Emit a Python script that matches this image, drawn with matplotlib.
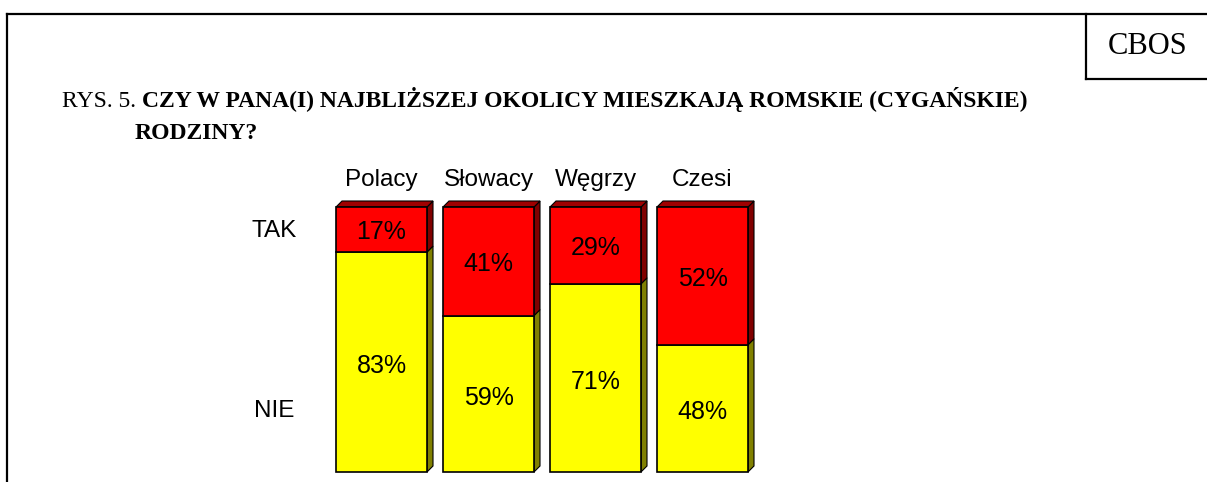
import matplotlib
matplotlib.use("Agg")
import matplotlib.pyplot as plt
from matplotlib.patches import Polygon
from matplotlib.lines import Line2D

# data
countries = ["Polacy", "Słowacy", "Węgrzy", "Czesi"]
nie = [83, 59, 71, 48]
tak = [17, 41, 29, 52]

YELLOW, RED = "#FFFF00", "#FF0000"
YELLOW_SIDE, RED_SIDE, RED_TOP = "#808000", "#800000", "#A00000"
SANS = "Liberation Sans"
SERIF = "Liberation Serif"

W, H = 1207, 482
fig = plt.figure(figsize=(W / 100, H / 100), dpi=100)

# frame lines (pixel -> figure fraction)
def fx(px): return px / W
def fy(py): return 1 - py / H

fig.add_artist(Line2D([fx(7), fx(W)], [fy(14), fy(14)], color="black", lw=1.6))
fig.add_artist(Line2D([fx(7), fx(7)], [fy(14), fy(H)], color="black", lw=1.6))
fig.add_artist(Line2D([fx(1086), fx(1086)], [fy(14), fy(79)], color="black", lw=1.6))
fig.add_artist(Line2D([fx(1086), fx(W)], [fy(79), fy(79)], color="black", lw=1.6))
fig.text(fx(1148), fy(47), "CBOS", family=SERIF, fontsize=22, ha="center", va="center")

# title
t1 = fig.text(fx(62), fy(107), "RYS. 5. ", family=SERIF, fontsize=17, va="baseline")
fig.canvas.draw()
bb = t1.get_window_extent()
fig.text(bb.x1 / W, fy(107), "CZY W PANA(I) NAJBLIŻSZEJ OKOLICY MIESZKAJĄ ROMSKIE (CYGAŃSKIE)",
         family=SERIF, fontsize=17, weight="bold", va="baseline")
fig.text(fx(135), fy(139), "RODZINY?", family=SERIF, fontsize=17, weight="bold", va="baseline")

# bar axes: y 0..100 maps to pixel 472..207, bar spacing 107 px
ax = fig.add_axes([fx(328), fy(472), 428 / W, (472 - 207) / H])
ax.set_xlim(-0.5, 3.5)
ax.set_ylim(0, 100)
ax.axis("off")

bw = 91 / 107
dx = 6 / 107
dy = 6 / 265 * 100

for i, (n, t) in enumerate(zip(nie, tak)):
    x0, x1 = i - bw / 2, i + bw / 2
    ax.bar(i, n, width=bw, color=YELLOW, edgecolor="black", lw=1.2, zorder=3, clip_on=False)
    ax.bar(i, t, bottom=n, width=bw, color=RED, edgecolor="black", lw=1.2, zorder=3, clip_on=False)
    # side faces
    for y0, y1, c in [(0, n, YELLOW_SIDE), (n, 100, RED_SIDE)]:
        ax.add_patch(Polygon([(x1, y0), (x1 + dx, y0 + dy), (x1 + dx, y1 + dy), (x1, y1)],
                             closed=True, facecolor=c, edgecolor="black", lw=0.8,
                             clip_on=False, zorder=2))
    ax.add_patch(Polygon([(x0, 100), (x1, 100), (x1 + dx, 100 + dy), (x0 + dx, 100 + dy)],
                         closed=True, facecolor=RED_TOP, edgecolor="black", lw=0.8,
                         clip_on=False, zorder=2))
    ax.text(i, n / 2 - 1.5, f"{n}%", family=SANS, fontsize=18, ha="center", va="center", zorder=4)
    ax.text(i, n + t / 2 - 1, f"{t}%", family=SANS, fontsize=18, ha="center", va="center", zorder=4)
    ax.text(i, 110, countries[i], family=SANS, fontsize=17.5, ha="center", va="center", clip_on=False)

ax.text(-1.0, 91, "TAK", family=SANS, fontsize=17.5, ha="center", va="center")
ax.text(-1.0, 23, "NIE", family=SANS, fontsize=17.5, ha="center", va="center")

fig.savefig("out.png", dpi=100)
